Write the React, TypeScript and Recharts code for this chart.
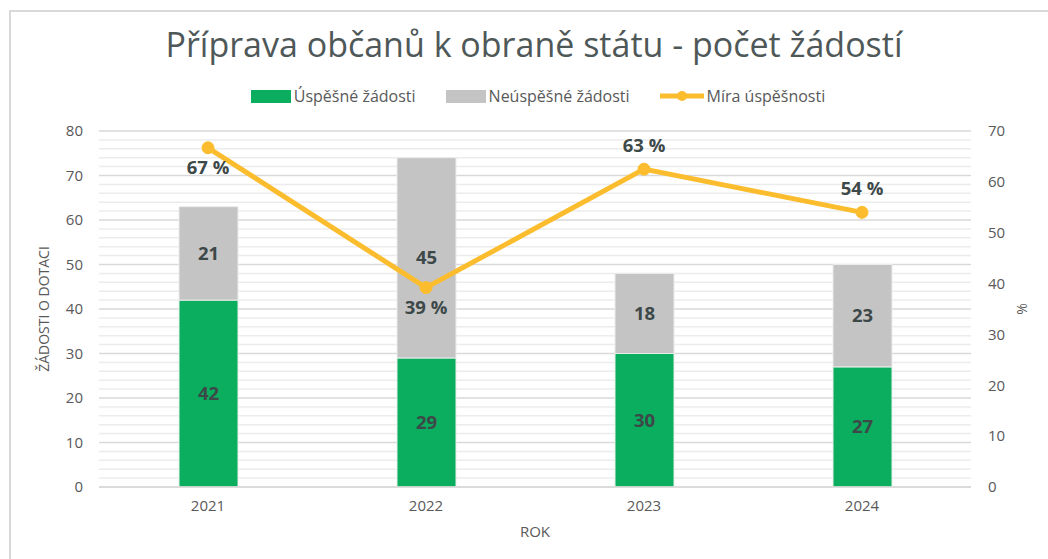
import { ComposedChart, Bar, Line, XAxis, YAxis, CartesianGrid, LabelList } from 'recharts'

const YEARS = ['2021', '2022', '2023', '2024']
const SUCCESSFUL = [42, 29, 30, 27]
const UNSUCCESSFUL = [21, 45, 18, 23]
const SUCCESS_RATE = [66.7, 39.2, 62.5, 54]

const LEFT_TICKS = [0, 10, 20, 30, 40, 50, 60, 70, 80]
const RIGHT_TICKS = [0, 10, 20, 30, 40, 50, 60, 70]
const MINOR_TICKS = [2, 4, 6, 8, 12, 14, 16, 18, 22, 24, 26, 28, 32, 34, 36, 38, 42, 44, 46, 48, 52, 54, 56, 58, 62, 64, 66, 68, 72, 74, 76, 78]
const BOUNDARY_TICKS = [0, 1, 2, 3, 4]

const GREEN = '#0bad5e'
const GREY = '#c4c4c4'
const GOLD = '#fbbd2e'
const TEXT = '#595959'
const LABEL = '#3d4848'
const FONT = '"Open Sans", "Noto Sans", sans-serif'

const data = YEARS.map((year, i) => ({
  year,
  ok: SUCCESSFUL[i],
  fail: UNSUCCESSFUL[i],
  rate: SUCCESS_RATE[i],
}))

const RateLabel = (props: any) => {
  const { x, y, value, index } = props
  const below = index < 2
  return (
    <text
      x={x}
      y={below ? y + 21 : y - 22}
      textAnchor="middle"
      dominantBaseline="middle"
      fill={LABEL}
      fontSize={18.5}
      fontWeight={700}
      fontFamily={FONT}
    >
      {Math.round(value)} %
    </text>
  )
}

const LegendItem = ({ kind, color, text }: { kind: 'box' | 'line'; color: string; text: string }) => (
  <div style={{ display: 'flex', alignItems: 'center', gap: 3 }}>
    {kind === 'box' ? (
      <div style={{ width: 40, height: 13, background: color }} />
    ) : (
      <svg width={44} height={14}>
        <line x1={0} y1={7} x2={44} y2={7} stroke={color} strokeWidth={5} />
        <circle cx={22} cy={7} r={5} fill={color} />
      </svg>
    )}
    <span>{text}</span>
  </div>
)

// minor grid lines every 2 units on the left axis
const minorLines = ({ yAxis, offset }: any) => {
  const s = yAxis && yAxis.scale
  return MINOR_TICKS.map((v) => {
    if (typeof s === 'function') return s(v)
    if (s && typeof s.map === 'function') return s.map(v)
    return offset.top + offset.height * (1 - v / 80)
  })
}

export default function App() {
  return (
    <div style={{ position: 'absolute', left: 0, top: 0, width: 1048, height: 559, overflow: 'hidden', background: '#fff', fontFamily: FONT }}>
      <div style={{ position: 'absolute', left: 9, top: 10, width: 1200, height: 700, border: '2px solid #d9d9d9' }} />
      <div style={{ position: 'absolute', left: 0, top: 21, width: 1068, textAlign: 'center', fontSize: 34, color: '#4f5858' }}>
        Příprava občanů k obraně státu - počet žádostí
      </div>
      <div style={{ position: 'absolute', left: 0, top: 85, width: 1076, display: 'flex', justifyContent: 'center', gap: 30, fontSize: 16, color: TEXT }}>
        <LegendItem kind="box" color={GREEN} text="Úspěšné žádosti" />
        <LegendItem kind="box" color={GREY} text="Neúspěšné žádosti" />
        <LegendItem kind="line" color={GOLD} text="Míra úspěšnosti" />
      </div>
      <div style={{ position: 'absolute', left: 0, top: 0 }}>
        <ComposedChart width={1048} height={559} data={data} margin={{ top: 131, right: 17, bottom: 0, left: 39 }}>
          <CartesianGrid
            vertical={false}
            yAxisId="left"
            stroke="#ececec"
            strokeWidth={1.5}
            horizontalCoordinatesGenerator={minorLines}
          />
          <CartesianGrid vertical={false} yAxisId="left" stroke="#d9d9d9" strokeWidth={1.5} />
          <XAxis
            xAxisId="bounds"
            type="number"
            domain={[0, 4]}
            ticks={BOUNDARY_TICKS}
            height={0}
            tick={false}
            axisLine={false}
            tickLine={{ stroke: '#d9d9d9', strokeWidth: 1.5 }}
            tickSize={5}
          />
          <XAxis
            dataKey="year"
            height={72}
            axisLine={{ stroke: '#d9d9d9', strokeWidth: 1.5 }}
            tickLine={false}
            tickSize={0}
            tickMargin={13}
            tick={{ fill: TEXT, fontSize: 15, fontFamily: FONT }}
            label={{ value: 'ROK', position: 'insideBottom', offset: 22, fill: TEXT, fontSize: 15, fontFamily: FONT }}
          />
          <YAxis
            yAxisId="left"
            domain={[0, 80]}
            ticks={LEFT_TICKS}
            width={60}
            axisLine={false}
            tickLine={false}
            tickSize={0}
            tickMargin={16}
            tick={{ fill: TEXT, fontSize: 15, fontFamily: FONT }}
            label={{
              content: (p: any) => {
                const vb = p.viewBox
                const cx = 45
                const cy = vb.y + vb.height / 2
                return (
                  <text x={cx} y={cy} transform={`rotate(-90 ${cx} ${cy})`} textAnchor="middle" dominantBaseline="middle" fill={TEXT} fontSize={14} fontFamily={FONT}>
                    ŽÁDOSTI O DOTACI
                  </text>
                )
              },
            }}
          />
          <YAxis
            yAxisId="right"
            orientation="right"
            domain={[0, 70]}
            ticks={RIGHT_TICKS}
            width={60}
            axisLine={false}
            tickLine={false}
            tickSize={0}
            tickMargin={17}
            tick={{ fill: TEXT, fontSize: 15, fontFamily: FONT }}
            label={{
              content: (p: any) => {
                const vb = p.viewBox
                const cx = 1023
                const cy = vb.y + vb.height / 2
                return (
                  <text x={cx} y={cy} transform={`rotate(-90 ${cx} ${cy})`} textAnchor="middle" dominantBaseline="middle" fill={TEXT} fontSize={14} fontFamily={FONT}>
                    %
                  </text>
                )
              },
            }}
          />
          <Bar dataKey="ok" yAxisId="left" stackId="a" fill={GREEN} stroke="#e8f0ea" strokeWidth={1} barSize={59} isAnimationActive={false}>
            <LabelList dataKey="ok" position="center" fill={LABEL} fontSize={18.5} fontWeight={700} fontFamily={FONT} />
          </Bar>
          <Bar dataKey="fail" yAxisId="left" stackId="a" fill={GREY} stroke="#ececec" strokeWidth={1} barSize={59} isAnimationActive={false}>
            <LabelList dataKey="fail" position="center" fill={LABEL} fontSize={18.5} fontWeight={700} fontFamily={FONT} />
          </Bar>
          <Line
            dataKey="rate"
            yAxisId="right"
            stroke={GOLD}
            strokeWidth={5}
            dot={{ r: 6, fill: GOLD, stroke: GOLD, strokeWidth: 1 }}
            isAnimationActive={false}
          >
            <LabelList dataKey="rate" content={RateLabel} />
          </Line>
        </ComposedChart>
      </div>
    </div>
  )
}
